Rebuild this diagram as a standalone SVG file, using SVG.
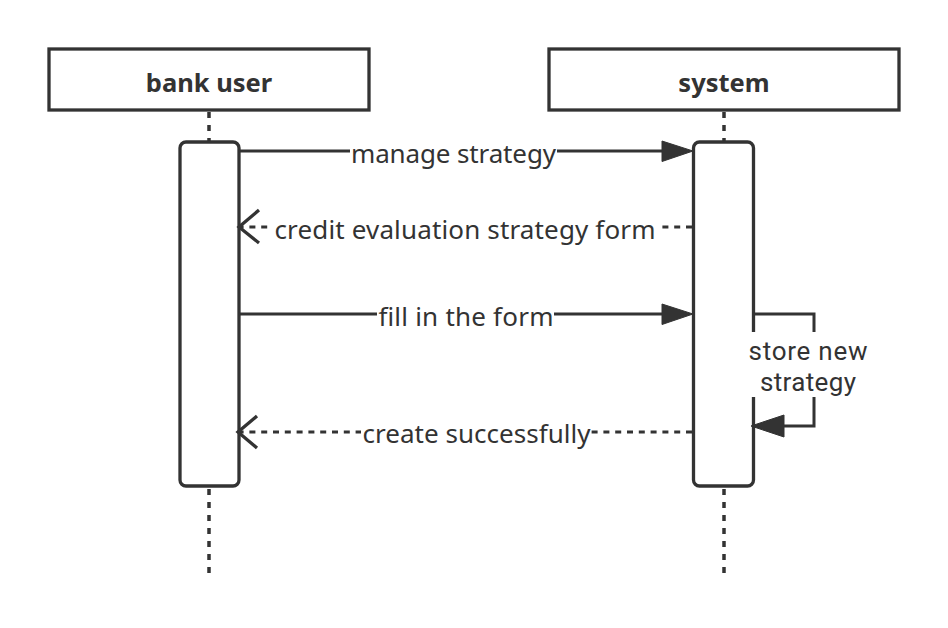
<svg xmlns="http://www.w3.org/2000/svg" width="948" height="628" viewBox="0 0 948 628">
<style>
.box{fill:#fff;stroke:#333;stroke-width:3.3}
.act{fill:#fff;stroke:#333;stroke-width:3.3}
.life{fill:none;stroke:#333;stroke-width:3.5;stroke-dasharray:6 7}
.msg{fill:none;stroke:#333;stroke-width:3}
.dash{fill:none;stroke:#333;stroke-width:3;stroke-dasharray:6 5.8}
.head{fill:#333;stroke:#333;stroke-width:1}
.open{fill:none;stroke:#333;stroke-width:3.3}
.bg{fill:#fff}
.title{font-family:"Noto Sans","Open Sans","DejaVu Sans",sans-serif;font-size:25.5px;font-weight:bold;fill:#333;text-anchor:middle}
.lbl{font-family:"Noto Sans","Open Sans","DejaVu Sans",sans-serif;font-size:26px;fill:#333;text-anchor:middle}
.self{font-family:Roboto,"Noto Sans",sans-serif;font-size:26px;fill:#333;text-anchor:middle}
</style>
<rect width="948" height="628" fill="#fff"/>
<g id="bank-user">
<line class="life" x1="209" y1="112" x2="209" y2="578"/>
<rect class="box" x="49" y="49" width="320" height="61"/>
<text class="title" x="209" y="92">bank user</text>
<rect class="act" x="180" y="142" width="59" height="344" rx="6"/>
</g>
<g id="system">
<line class="life" x1="724" y1="112" x2="724" y2="578"/>
<rect class="box" x="549" y="49" width="350" height="61"/>
<text class="title" x="724" y="92">system</text>
<rect class="act" x="693.5" y="142" width="60" height="344" rx="6"/>
</g>
<g id="connectors">
<g id="msg-manage">
<line class="msg" x1="239" y1="151" x2="665" y2="151"/>
<polygon class="head" points="693,151 662,141 662,161.5"/>
<rect class="bg" x="350" y="138" width="207" height="30"/>
<text class="lbl" x="453.5" y="163" textLength="205" lengthAdjust="spacing">manage strategy</text>
</g>
<g id="msg-form">
<line class="dash" x1="692" y1="227" x2="241" y2="227"/>
<polyline class="open" points="259,210 239,227 259,243"/>
<rect class="bg" x="273" y="212" width="384" height="32"/>
<text class="lbl" x="465" y="238.5" textLength="381" lengthAdjust="spacing">credit evaluation strategy form</text>
</g>
<g id="msg-fill">
<line class="msg" x1="239" y1="314" x2="665" y2="314"/>
<polygon class="head" points="693,314 662,304 662,324.5"/>
<rect class="bg" x="377" y="300" width="177" height="30"/>
<text class="lbl" x="466" y="326" textLength="175" lengthAdjust="spacing">fill in the form</text>
</g>
<g id="msg-store">
<polyline class="msg" points="753,314 814,314 814,426 782,426"/>
<polygon class="head" points="751,426 784,415 784,437"/>
<rect class="bg" x="746" y="332" width="124" height="65"/>
<text class="self" x="808" y="360" textLength="119" lengthAdjust="spacing">store new</text>
<text class="self" x="808" y="391" textLength="96" lengthAdjust="spacing">strategy</text>
</g>
<g id="msg-success">
<line class="dash" x1="692" y1="432" x2="240" y2="432"/>
<polyline class="open" points="257,416 238,432 257,448"/>
<rect class="bg" x="361" y="418" width="230" height="30"/>
<text class="lbl" x="476.5" y="443" textLength="228" lengthAdjust="spacing">create successfully</text>
</g>
</g>
</svg>
